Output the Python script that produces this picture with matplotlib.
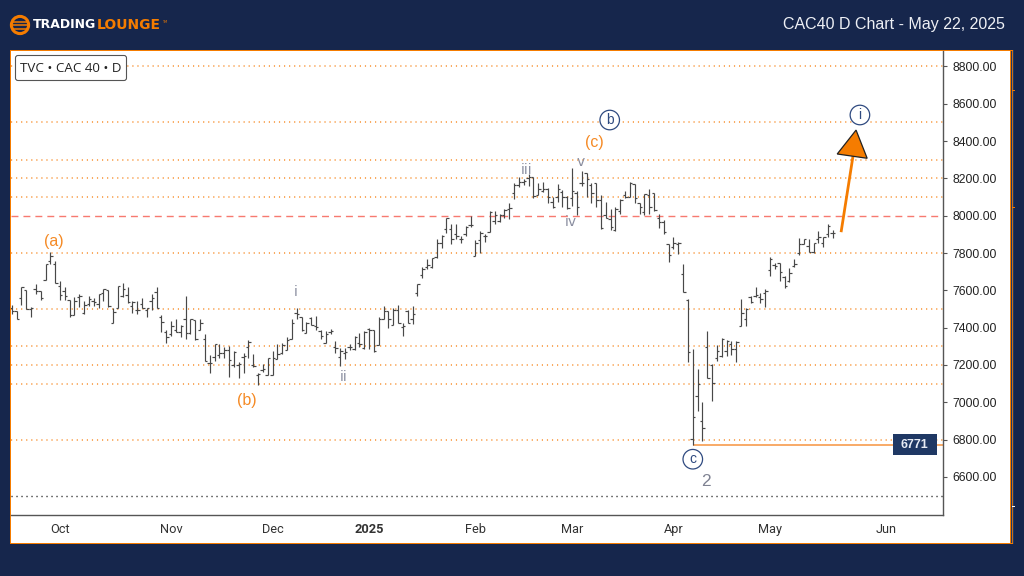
#Libraries
import matplotlib
matplotlib.use("Agg")
import matplotlib.pyplot as plt
from matplotlib.patches import Circle, Polygon, Rectangle, FancyBboxPatch

# Daily bars
openPrice = [7508,7491,7557,7601,7501,7605,7596,7655,7759,7744,
             7623,7596,7551,7467,7566,7480,7526,7542,7526,7587,
             7601,7423,7507,7571,7575,7516,7494,7526,7494,7542,
             7589,7458,7378,7364,7387,7376,7444,7369,7440,7390,
             7342,7212,7244,7256,7265,7283,7199,7199,7244,7298,
             7199,7147,7172,7149,7149,7233,7265,7283,7337,7480,
             7455,7369,7453,7408,7382,7319,7378,7294,7244,7262,
             7294,7287,7319,7289,7392,7387,7306,7449,7489,7417,
             7494,7405,7489,7444,7587,7682,7727,7723,7780,7852,
             7927,7927,7902,7875,7900,7950,7786,7869,7891,7914,
             7973,7973,8004,8034,8120,8164,8179,8200,8205,8111,
             8132,8141,8075,8102,8129,8102,8096,8120,8173,8227,
             8164,8173,8084,8004,7982,7923,8025,8111,8102,8168,
             8066,8018,8111,8123,7986,7968,7848,7834,7847,7686,
             7548,6801,7033,6899,7298,7200,7235,7248,7275,7312,
             7284,7409,7444,7562,7570,7566,7584,7709,7736,7745,
             7670,7652,7730,7798,7848,7838,7804,7873,7855,7902,
             7909]
highPrice = [7521,7491,7616,7601,7512,7632,7596,7739,7803,7759,
             7651,7619,7551,7566,7583,7542,7569,7557,7583,7610,
             7601,7507,7623,7642,7616,7541,7542,7560,7508,7580,
             7616,7467,7390,7435,7444,7412,7569,7449,7440,7449,
             7365,7256,7315,7315,7298,7301,7276,7217,7265,7333,
             7258,7155,7203,7240,7273,7315,7319,7348,7444,7508,
             7458,7432,7455,7462,7390,7382,7392,7328,7292,7289,
             7315,7355,7369,7382,7396,7387,7455,7516,7489,7503,
             7519,7423,7494,7516,7632,7727,7766,7775,7873,7896,
             7986,7955,7955,7893,7945,7998,7869,7918,7900,8025,
             8025,8012,8034,8066,8173,8209,8197,8223,8205,8173,
             8179,8150,8102,8168,8138,8107,8254,8134,8241,8227,
             8173,8177,8111,8071,8034,8045,8088,8134,8179,8170,
             8066,8116,8141,8123,8012,7977,7848,7884,7857,7741,
             7552,7285,7178,7000,7382,7205,7307,7343,7334,7330,
             7328,7553,7503,7570,7616,7584,7605,7777,7748,7745,
             7677,7718,7768,7879,7875,7873,7852,7918,7888,7954,
             7923]
lowPrice = [7473,7449,7521,7501,7458,7578,7551,7655,7744,7637,
            7551,7551,7458,7466,7512,7476,7516,7516,7507,7542,
            7512,7423,7507,7566,7533,7480,7471,7507,7458,7494,
            7508,7378,7319,7358,7376,7351,7342,7364,7333,7390,
            7219,7158,7222,7240,7235,7137,7190,7131,7158,7239,
            7187,7094,7164,7149,7149,7230,7258,7283,7337,7449,
            7383,7369,7414,7390,7342,7319,7365,7265,7194,7231,
            7280,7283,7298,7287,7287,7271,7306,7444,7399,7417,
            7426,7356,7426,7419,7571,7668,7712,7718,7775,7828,
            7905,7846,7873,7852,7893,7941,7786,7798,7859,7914,
            7955,7968,7986,7982,8089,8155,8164,8159,8096,8111,
            8129,8066,8043,8075,8048,8034,8054,8004,8159,8102,
            8066,8048,7927,7986,7923,7919,8009,8093,8102,8066,
            8009,8004,8012,8027,7932,7902,7754,7820,7793,7593,
            7218,6771,6955,6792,7128,7008,7223,7241,7248,7253,
            7218,7409,7409,7530,7562,7534,7512,7677,7714,7652,
            7614,7646,7727,7789,7848,7807,7802,7855,7830,7884,
            7879]
closePrice = [7491,7449,7616,7501,7508,7596,7560,7739,7784,7637,
              7575,7571,7467,7542,7571,7521,7555,7539,7580,7605,
              7517,7485,7623,7610,7537,7539,7494,7508,7508,7560,
              7508,7428,7348,7408,7376,7408,7369,7444,7337,7423,
              7222,7212,7312,7262,7280,7226,7271,7208,7248,7324,
              7194,7151,7176,7240,7240,7258,7306,7333,7423,7476,
              7390,7426,7414,7405,7355,7364,7382,7292,7276,7267,
              7294,7351,7310,7378,7387,7276,7449,7489,7449,7494,
              7426,7408,7426,7473,7632,7712,7735,7775,7852,7891,
              7986,7873,7891,7875,7941,7950,7852,7905,7891,8018,
              8004,8004,8030,8039,8164,8179,8188,8205,8105,8141,
              8146,8102,8048,8146,8102,8039,8134,8048,8173,8195,
              8120,8084,7932,7986,7937,8034,8084,8098,8173,8096,
              8045,8114,8045,8030,7968,7914,7789,7855,7855,7593,
              7271,6923,7098,6860,7128,7101,7275,7339,7330,7284,
              7325,7480,7500,7536,7573,7552,7595,7766,7730,7700,
              7625,7695,7741,7848,7873,7807,7852,7888,7884,7947,
              7909]

# Axis labels
priceTicks = [6600,6800,7000,7200,7400,7600,7800,8000,8200,8400,8600,8800]
monthBars = [10,33,54,74,96,116,137,157,181]
monthLabels = ["Oct","Nov","Dec","2025","Feb","Mar","Apr","May","Jun"]

# Horizontal levels
orangeLevels = [8800,8500,8300,8200,8100,7800,7500,7300,7200,7100,6800]
redLevel = 8000
blackLevel = 6500
lowLevel = 6771

# Wave labels: text, bar, price
orangeWaves = [("(a)",8.8,7864),("(b)",48.7,7012),("(c)",120.6,8395)]
grayWaves = [("i",58.7,7591),("ii",68.8,7135),("iii",106.5,8245),("iv",115.8,7966),("v",117.7,8288)]
circleWaves = [("b",123.8,8513),("c",141,6695),("i",175.6,8540)]

NAVY = "#16264c"
ORANGE = "#f57c00"
DOTS = "#f9a95e"

fig = plt.figure(figsize=(10.24,5.76),dpi=100,facecolor=NAVY)

# Frame and header drawn in pixel coordinates
bg = fig.add_axes([0,0,1,1])
bg.set_xlim(0,1024)
bg.set_ylim(576,0)
bg.axis("off")
bg.add_patch(Rectangle((10,50),1000,494,facecolor="white",edgecolor="none"))
bg.add_patch(Rectangle((1011,50),3,494,facecolor="#1f3864",edgecolor="none"))
bg.add_patch(Rectangle((10,50),1003,1,facecolor=ORANGE,edgecolor="none"))
bg.add_patch(Rectangle((10,50),1,494,facecolor=ORANGE,edgecolor="none"))
bg.add_patch(Rectangle((10,543),1003,1,facecolor=ORANGE,edgecolor="none"))
bg.add_patch(Rectangle((1010,50),1,494,facecolor=ORANGE,edgecolor="none"))
bg.add_patch(Rectangle((1012,50),1,494,facecolor=ORANGE,edgecolor="none",alpha=0.8))
for markY,markColor in [(90,ORANGE),(207,ORANGE),(506,"white")]:
    bg.plot([1012,1014],[markY,markY],color=markColor,lw=0.7)

# Logo
bg.add_patch(Circle((20,25),8.6,facecolor=NAVY,edgecolor=ORANGE,lw=2.2))
for logoY in [21.5,25,28.5]:
    bg.plot([12,28],[logoY,logoY],color=ORANGE,lw=1.1,solid_capstyle="butt")
bg.text(33,25,"TRADING",color="white",fontsize=9,fontweight="bold",family="DejaVu Sans",ha="left",va="center")
bg.text(97,25,"LOUNGE",color=ORANGE,fontsize=10,fontweight="bold",family="DejaVu Sans",ha="left",va="center")
bg.text(162,22,"TM",color=ORANGE,fontsize=2.5,ha="left",va="center")
bg.text(1005,24.5,"CAC40 D Chart - May 22, 2025",color="#eef0f5",fontsize=11.55,family="Liberation Sans",ha="right",va="center")

# Price axes
ax = fig.add_axes([11/1024,1-515/576,932/1024,464/576])
ax.patch.set_alpha(0)
ax.set_xlim(-0.145,192.8)
ax.set_ylim(6396,8883)
ax.yaxis.tick_right()
ax.set_yticks(priceTicks)
ax.set_yticklabels(["%.2f" % p for p in priceTicks],family="Liberation Sans",fontsize=8.8,color="#222222")
ax.set_xticks(monthBars)
ax.set_xticklabels(monthLabels,family="Roboto",fontsize=9.2,color="#333333")
for label in ax.get_xticklabels():
    if label.get_text() == "2025":
        label.set_fontweight("bold")
ax.tick_params(axis="y",length=3,width=0.8,color="#555555",pad=4)
ax.tick_params(axis="x",length=0,pad=6)
for side in ["top","left"]:
    ax.spines[side].set_visible(False)
for side in ["right","bottom"]:
    ax.spines[side].set_color("#555555")
    ax.spines[side].set_linewidth(1.0)

# Levels
for level in orangeLevels:
    ax.axhline(level,color=DOTS,lw=1.4,dashes=(0.6,2.0),zorder=1)
ax.axhline(redLevel,color="#f77a70",lw=1.0,dashes=(5,3.6),zorder=1)
ax.axhline(blackLevel,color="black",lw=1.0,dashes=(0.75,2.85),zorder=1)

# OHLC bars
bars = list(range(len(closePrice)))
barColor = "#484848"
ax.vlines(bars,lowPrice,highPrice,color=barColor,lw=0.85,zorder=3)
ax.hlines(openPrice,[b-0.5 for b in bars],bars,color=barColor,lw=0.85,zorder=3)
ax.hlines(closePrice,bars,[b+0.5 for b in bars],color=barColor,lw=0.85,zorder=3)

# Low of wave 2
lowBar = lowPrice.index(min(lowPrice))
ax.plot([lowBar,192.8],[lowLevel,lowLevel],color="#f8a45c",lw=1.3,zorder=2,solid_capstyle="butt")

# Target arrow
ax.plot([171.7,174.2],[7912,8325],color=ORANGE,lw=2.0,zorder=4,solid_capstyle="butt")
ax.add_patch(Polygon([[174.8,8459],[170.9,8331],[177.1,8308]],closed=True,facecolor=ORANGE,edgecolor="#222222",lw=0.9,zorder=5))

# Wave labels
for text,bar,price in orangeWaves:
    ax.text(bar,price,text,color="#f58a25",fontsize=11.5,family="Liberation Sans",ha="center",va="center",zorder=6)
for text,bar,price in grayWaves:
    ax.text(bar,price,text,color="#8a8ea0",fontsize=10,family="DejaVu Sans",ha="center",va="center",zorder=6)
ax.text(143.7,6577,"2",color="#7f8292",fontsize=12.5,family="Liberation Sans",ha="center",va="center",zorder=6)
for text,bar,price in circleWaves:
    ax.text(bar,price,text,color="#2f4a80",fontsize=10,family="Liberation Sans",ha="center",va="center",zorder=6,
            bbox=dict(boxstyle="circle,pad=0.2",facecolor="white",edgecolor="#2f4a80",lw=0.9))

# Symbol box and price box on top
top = fig.add_axes([0,0,1,1],zorder=5)
top.set_xlim(0,1024)
top.set_ylim(576,0)
top.axis("off")
top.add_patch(FancyBboxPatch((15.5,55.5),111,25,boxstyle="round,pad=0,rounding_size=2.5",facecolor="white",edgecolor="#555555",lw=0.8))
top.text(71,68,"TVC \u2022 CAC 40 \u2022 D",color="#222222",fontsize=9.6,family="Open Sans",ha="center",va="center")
top.add_patch(Rectangle((893,434),44,21,facecolor="#1f3864",edgecolor="none"))
top.text(914.5,444.5,str(lowLevel),color="#e8ecf5",fontsize=9,fontweight="bold",family="Liberation Sans",ha="center",va="center")

fig.savefig("out.png",dpi=100,facecolor=NAVY)
